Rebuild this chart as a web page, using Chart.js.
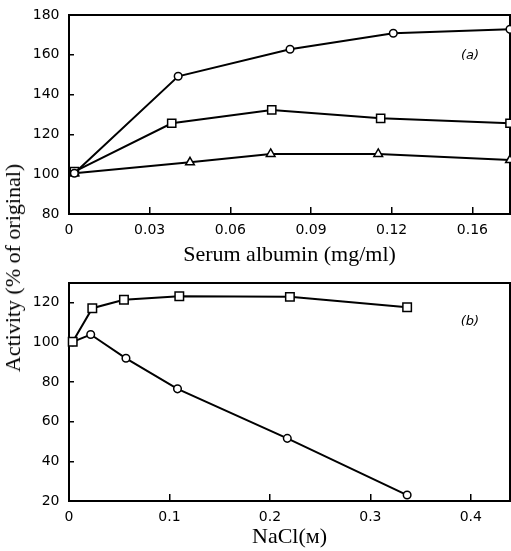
<!DOCTYPE html>
<html>
<head>
<meta charset="utf-8">
<script src="https://cdn.jsdelivr.net/npm/chart.js@4.4.1/dist/chart.umd.min.js"></script>
<style>
  body { margin: 0; background: #fff; }
  #wrap { position: relative; width: 511px; height: 551px; overflow: hidden; }
  canvas { position: absolute; left: 0; }
  #chartA { top: 0; }
  #chartB { top: 270px; }
  .lbl { position: absolute; white-space: nowrap; transform: translate(-50%, -50%); color: #000; }
  #ylabel { left: 13px; top: 268px; font: 22px "Liberation Serif", serif; transform: translate(-50%, -50%) rotate(-90deg); }
  .panel { font: italic 13px "DejaVu Sans", sans-serif; }
</style>
</head>
<body>
<div id="wrap">
  <canvas id="chartA" width="511" height="270"></canvas>
  <canvas id="chartB" width="511" height="281"></canvas>
  <div id="ylabel" class="lbl">Activity (% of original)</div>
  <div class="lbl panel" style="left:470px;top:54px">(a)</div>
  <div class="lbl panel" style="left:470px;top:320px">(b)</div>
</div>
<script>
// (a) activity vs serum albumin (mg/ml)
const albCircleX = [0.002, 0.0406, 0.0822, 0.1206, 0.164];
const albCircleY = [100.5, 149.2, 162.8, 170.8, 172.8];
const albSquareX = [0.002, 0.0382, 0.0754, 0.1159, 0.164];
const albSquareY = [101.3, 125.6, 132.3, 128.1, 125.6];
const albTriangleX = [0.002, 0.045, 0.075, 0.115, 0.164];
const albTriangleY = [100.5, 106, 110.2, 110.2, 107.1];
const albXTicks = [0, 0.03, 0.06, 0.09, 0.12, 0.15];
const albXLabels = ['0', '0.03', '0.06', '0.09', '0.12', '0.16'];
const albYTicks = [80, 100, 120, 140, 160, 180];

// (b) activity vs NaCl (M)
const naclSquareX = [0.0037, 0.0232, 0.0547, 0.1098, 0.2199, 0.3366];
const naclSquareY = [100.3, 117.3, 121.5, 123.3, 123.0, 117.8];
const naclCircleX = [0.0037, 0.0216, 0.0567, 0.108, 0.2173, 0.3366];
const naclCircleY = [100.3, 104.0, 92.0, 76.6, 51.6, 23.0];
const naclXTicks = [0, 0.1, 0.2, 0.3, 0.4];
const naclXLabels = ['0', '0.1', '0.2', '0.3', '0.4'];
const naclYTicks = [20, 40, 60, 80, 100, 120];

Chart.defaults.color = '#000';
Chart.defaults.font.family = '"DejaVu Sans", sans-serif';
Chart.defaults.font.size = 14;

const toPoints = (xs, ys) => xs.map((x, i) => ({ x: x, y: ys[i] }));

function series(xs, ys, style, radius) {
    return {
        data: toPoints(xs, ys),
        borderColor: '#000',
        borderWidth: 2,
        pointStyle: style,
        pointRadius: radius,
        pointBackgroundColor: '#fff',
        pointBorderColor: '#000',
        pointBorderWidth: 1.5,
        tension: 0,
        clip: false
    };
}

// box around the plot area
const framePlugin = {
    id: 'frame',
    beforeDatasetsDraw(chart) {
        const { ctx, chartArea: a } = chart;
        ctx.save();
        ctx.strokeStyle = '#000';
        ctx.lineWidth = 2;
        ctx.strokeRect(a.left, a.top, a.right - a.left, a.bottom - a.top);
        ctx.restore();
    }
};

function makeChart(id, datasets, opt) {
    const ctx = document.getElementById(id).getContext('2d');
    return new Chart(ctx, {
        type: 'line',
        data: { datasets: datasets },
        plugins: [framePlugin],
        options: {
            responsive: false,
            animation: false,
            layout: { autoPadding: false, padding: { top: opt.padTop, right: 1, left: 0, bottom: 0 } },
            plugins: { legend: { display: false }, tooltip: { enabled: false } },
            scales: {
                x: {
                    type: 'linear',
                    min: 0,
                    max: opt.xMax,
                    border: { display: false },
                    grid: { drawOnChartArea: false, drawTicks: true, tickLength: -7, color: '#000', lineWidth: 1.5 },
                    ticks: {
                        padding: 15,
                        callback: (v) => {
                            const i = opt.xTicks.findIndex(t => Math.abs(t - v) < 1e-9);
                            return i >= 0 ? opt.xLabels[i] : '';
                        }
                    },
                    afterBuildTicks: (s) => { s.ticks = opt.xTicks.map(v => ({ value: v })); },
                    afterFit: (s) => {
                        s.height = opt.xHeight;
                        s.paddingLeft = 0;
                        s.paddingRight = 0;
                    },
                    title: {
                        display: true,
                        text: opt.xTitle,
                        font: { family: '"Liberation Serif", "DejaVu Serif", serif', size: 22 },
                        padding: { top: 0, bottom: opt.titlePad }
                    }
                },
                y: {
                    min: opt.yTicks[0],
                    max: opt.yMax,
                    border: { display: false },
                    grid: { drawOnChartArea: false, drawTicks: true, tickLength: -5, color: '#000', lineWidth: 1.5 },
                    ticks: { padding: 14.5 },
                    afterBuildTicks: (s) => { s.ticks = opt.yTicks.map(v => ({ value: v })); },
                    afterFit: (s) => {
                        s.width = 69;
                        s.paddingTop = 0;
                        s.paddingBottom = 0;
                    }
                }
            }
        }
    });
}

makeChart('chartA', [
    series(albCircleX, albCircleY, 'circle', 3.8),
    series(albSquareX, albSquareY, 'rect', 5.8),
    series(albTriangleX, albTriangleY, 'triangle', 5)
], {
    padTop: 15, xMax: 0.164, xTicks: albXTicks, xLabels: albXLabels,
    yTicks: albYTicks, yMax: 180, xHeight: 56, titlePad: 2,
    xTitle: 'Serum albumin (mg/ml)'
});

makeChart('chartB', [
    series(naclSquareX, naclSquareY, 'rect', 6),
    series(naclCircleX, naclCircleY, 'circle', 3.8)
], {
    padTop: 13, xMax: 0.439, xTicks: naclXTicks, xLabels: naclXLabels,
    yTicks: naclYTicks, yMax: 130, xHeight: 50, titlePad: 1,
    xTitle: 'NaCl(ᴍ)'
});
</script>
</body>
</html>
